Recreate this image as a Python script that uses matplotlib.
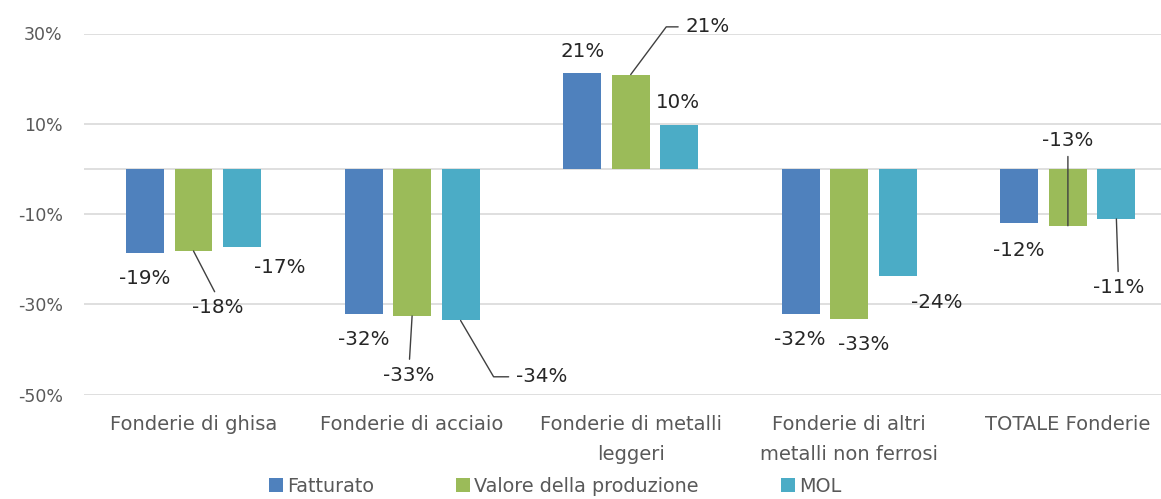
import matplotlib
matplotlib.use("Agg")
import matplotlib.pyplot as plt
from matplotlib.patches import Patch
import numpy as np

plt.rcParams['font.family'] = ['DejaVu Sans']

categories = ["Fonderie di ghisa", "Fonderie di acciaio", "Fonderie di metalli\nleggeri",
              "Fonderie di altri\nmetalli non ferrosi", "TOTALE Fonderie"]
series_names = ["Fatturato", "Valore della produzione", "MOL"]
fatturato = [-18.6, -32.1, 21.2, -32.1, -12.1]
valore = [-18.2, -32.6, 20.9, -33.3, -12.6]
mol = [-17.4, -33.6, 9.7, -23.8, -11.1]
colors = ["#4F81BD", "#9BBB59", "#4BACC6"]
yticks = [-50, -30, -10, 10, 30]

series = [fatturato, valore, mol]

W, H = 1161, 499
fig = plt.figure(figsize=(W / 100, H / 100), dpi=100)
ax_left, ax_right = 84.2, 84.2 + 5 * 218.6
ax_top, ax_bot = 33.5, 394.5
ax = fig.add_axes([ax_left / W, 1 - ax_bot / H, (ax_right - ax_left) / W, (ax_bot - ax_top) / H])

x = np.arange(len(categories))
offs = [-0.2218, 0.0, 0.2218]
bw = 0.1735

ax.set_xlim(-0.5, len(categories) - 0.5)
ax.set_ylim(-50, 30)
ax.set_yticks(yticks)
ax.set_yticklabels([f"{t}%" for t in yticks])
ax.yaxis.grid(True, color="#d9d9d9", lw=1.2, zorder=0)
ax.axhline(0, color="#d9d9d9", lw=1.2, zorder=1)
ax.set_axisbelow(True)
for s in ax.spines.values():
    s.set_visible(False)
ax.tick_params(axis="y", length=0, pad=15.5, labelsize=12.5, labelcolor="#595959")
ax.set_xticks(x)
ax.set_xticklabels(categories, linespacing=1.68)
ax.tick_params(axis="x", length=0, pad=15, labelsize=14, labelcolor="#595959")

for i, (vals, c) in enumerate(zip(series, colors)):
    ax.bar(x + offs[i], vals, width=bw, color=c, zorder=2)

# label offsets (pixels) from bar end: [series][category]
label_off = [
    [(0, -25.5), (0, -25.7), (0, 21.3), (-1, -25.7), (-1, -26.7)],
    [(24.5, -56.7), (-3, -59.7), (76.5, 47.7), (14.5, -25.3), (0, 85.7)],
    [(38, -19.7), (80.7, -56.3), (-1, 22.3), (38.5, -26.4), (2, -69)],
]
leader = {
    (1, 0): dict(relpos=(0.5, 1.0), connectionstyle="arc3"),
    (1, 1): dict(relpos=(0.5, 1.0), connectionstyle="arc3"),
    (2, 1): dict(relpos=(0.0, 0.5), connectionstyle="angle,angleA=0,angleB=-59.6"),
    (1, 2): dict(relpos=(0.0, 0.5), connectionstyle="angle,angleA=0,angleB=53.3"),
    (1, 4): dict(relpos=(0.5, 0.0), connectionstyle="arc3"),
    (2, 4): dict(relpos=(0.5, 1.0), connectionstyle="arc3"),
}

for i, vals in enumerate(series):
    for j, v in enumerate(vals):
        dx, dy = label_off[i][j]
        kw = {}
        if (i, j) in leader:
            ld = leader[(i, j)]
            kw["arrowprops"] = dict(arrowstyle="-", color="#404040", lw=1.0,
                                    shrinkA=3, shrinkB=0, relpos=ld["relpos"],
                                    connectionstyle=ld["connectionstyle"])
        ax.annotate(f"{round(v):.0f}%", xy=(x[j] + offs[i], v), xytext=(dx, dy),
                    textcoords="offset pixels", ha="center", va="center",
                    fontsize=14.3, color="#262626", zorder=5, **kw)

handles = [Patch(facecolor=c, edgecolor="none") for c in colors]
fig.legend(handles, series_names, loc="upper left", bbox_to_anchor=(269 / W, 1 - 477 / H),
           ncol=3, frameon=False, fontsize=13.8, labelcolor="#595959",
           handlelength=0.72, handleheight=0.72, handletextpad=0.22,
           columnspacing=4.3, borderpad=0, borderaxespad=0)

fig.savefig("out.png", dpi=100)
